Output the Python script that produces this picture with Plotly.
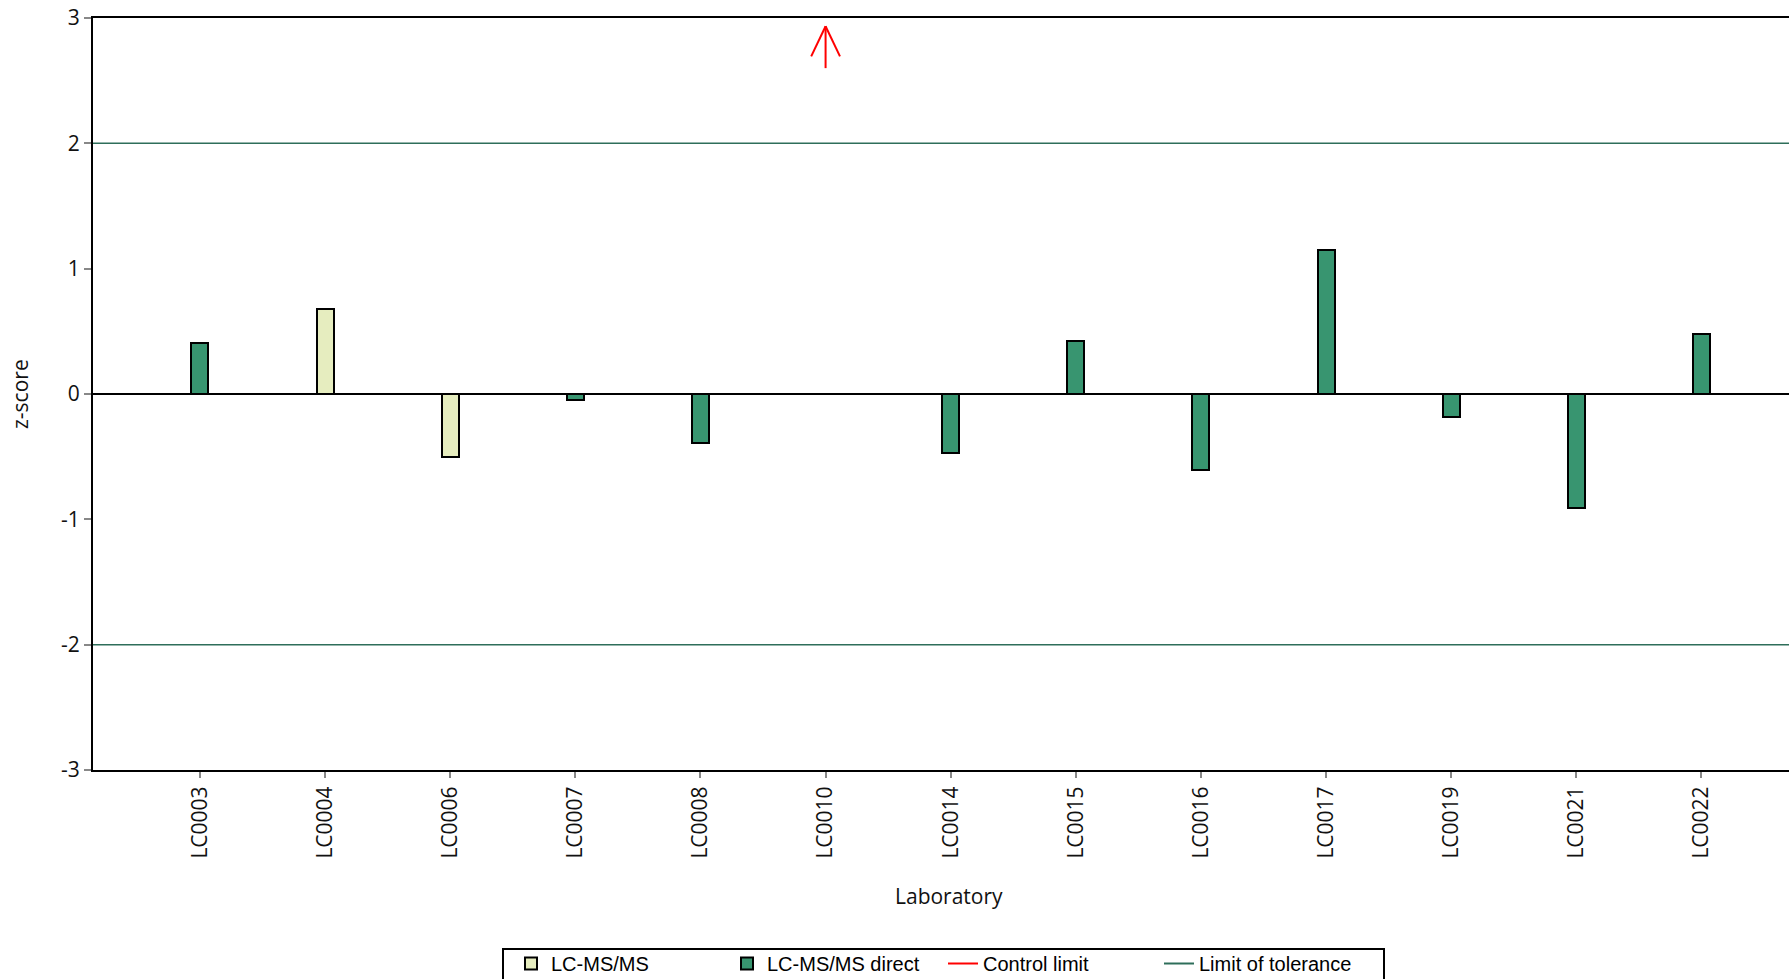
import plotly.graph_objects as go

# ---- data ----
labs = ["LC0003", "LC0004", "LC0006", "LC0007", "LC0008", "LC0010", "LC0014",
        "LC0015", "LC0016", "LC0017", "LC0019", "LC0021", "LC0022"]
methods = ["LC-MS/MS direct", "LC-MS/MS", "LC-MS/MS", "LC-MS/MS direct", "LC-MS/MS direct",
           "LC-MS/MS direct", "LC-MS/MS direct", "LC-MS/MS direct", "LC-MS/MS direct",
           "LC-MS/MS direct", "LC-MS/MS direct", "LC-MS/MS direct", "LC-MS/MS direct"]
z_scores = [0.41, 0.68, -0.50, -0.05, -0.39, None, -0.47, 0.42, -0.61, 1.15, -0.18, -0.91, 0.48]
above_range = ["LC0010"]          # z-score beyond the upper axis limit (shown by an arrow)
tolerance_limits = [-2, 2]
control_limits = [-3, 3]
y_ticks = [-3, -2, -1, 0, 1, 2, 3]
y_tick_labels = ["-3", "-2", "-1", "0", "1", "2", "3"]

method_colors = {"LC-MS/MS": "#E6EDBF", "LC-MS/MS direct": "#389570"}
tol_color = "#2E6E5A"
ctrl_color = "#FF0000"

idx = list(range(len(labs)))
fig = go.Figure()

for m in ["LC-MS/MS", "LC-MS/MS direct"]:
    xs = [i for i in idx if methods[i] == m and z_scores[i] is not None]
    fig.add_trace(go.Bar(
        x=xs, y=[z_scores[i] for i in xs], name=m, width=0.136,
        marker=dict(color=method_colors[m], line=dict(color="black", width=2)),
    ))

# legend entries for lines
fig.add_trace(go.Scatter(x=[None], y=[None], mode="lines", name="Control limit",
                         line=dict(color=ctrl_color, width=2)))
fig.add_trace(go.Scatter(x=[None], y=[None], mode="lines", name="Limit of tolerance",
                         line=dict(color=tol_color, width=2)))

# tolerance lines
for t in tolerance_limits:
    fig.add_shape(type="line", xref="paper", x0=0, x1=1, yref="y", y0=t, y1=t,
                  line=dict(color=tol_color, width=1.5))

# arrows for out-of-range values
ymax = max(y_ticks)
for lab in above_range:
    i = labs.index(lab)
    tip = ymax - 0.066
    for (x0, y0) in [(i, ymax - 0.40), (i - 0.115, ymax - 0.306), (i + 0.115, ymax - 0.306)]:
        fig.add_shape(type="line", xref="x", yref="y", x0=x0, y0=y0, x1=i, y1=tip,
                      line=dict(color=ctrl_color, width=2))

# legend frame (box top below the plot, running off the page bottom)
PW, PB = 1696, 770
fig.add_shape(type="rect", xref="paper", yref="paper",
              x0=(503 - 93) / PW, x1=(1384 - 93) / PW,
              y0=-(949 - PB) / 752, y1=-(1000 - PB) / 752,
              line=dict(color="black", width=2), fillcolor="rgba(0,0,0,0)")

fig.update_layout(
    width=1789, height=979,
    margin=dict(l=93, r=0, t=18, b=209, autoexpand=False),
    plot_bgcolor="white", paper_bgcolor="white",
    barmode="overlay", bargap=0,
    font=dict(family="Open Sans", size=21, color="#111"),
    showlegend=True,
    legend=dict(orientation="h", x=(511 - 93) / PW, xanchor="left",
                y=-(944 - PB) / 752, yanchor="top",
                bgcolor="rgba(0,0,0,0)", borderwidth=0,
                font=dict(family="Liberation Sans", size=20, color="black"),
                entrywidth=171, entrywidthmode="pixels", traceorder="normal"),
)

fig.update_xaxes(
    range=[-0.855, 12.70], tickmode="array", tickvals=idx, ticktext=labs,
    tickangle=-90, ticks="outside", ticklen=6, tickwidth=2, tickcolor="#888",
    showline=True, linecolor="black", linewidth=2, mirror=True,
    showgrid=False, zeroline=False, tickfont=dict(size=21),
)
fig.update_yaxes(
    range=[min(y_ticks), ymax], tickmode="array", tickvals=y_ticks, ticktext=y_tick_labels,
    ticks="outside", ticklen=7, tickwidth=2, tickcolor="#888",
    showline=True, linecolor="black", linewidth=2,
    showgrid=False, zeroline=True, zerolinecolor="black", zerolinewidth=2,
    tickfont=dict(size=21),
)

fig.add_annotation(text="Laboratory", xref="paper", yref="paper",
                   x=(949 - 93) / PW, y=-(896 - PB) / 752,
                   xanchor="center", yanchor="middle", showarrow=False,
                   font=dict(size=21))
fig.add_annotation(text="z-score", xref="paper", yref="paper",
                   x=(20 - 93) / PW, y=0.5, textangle=-90,
                   xanchor="center", yanchor="middle", showarrow=False,
                   font=dict(size=21))

fig.write_html("out.html", config={"displayModeBar": False},
               post_script="document.body.style.margin='0';document.body.style.overflow='hidden';")
